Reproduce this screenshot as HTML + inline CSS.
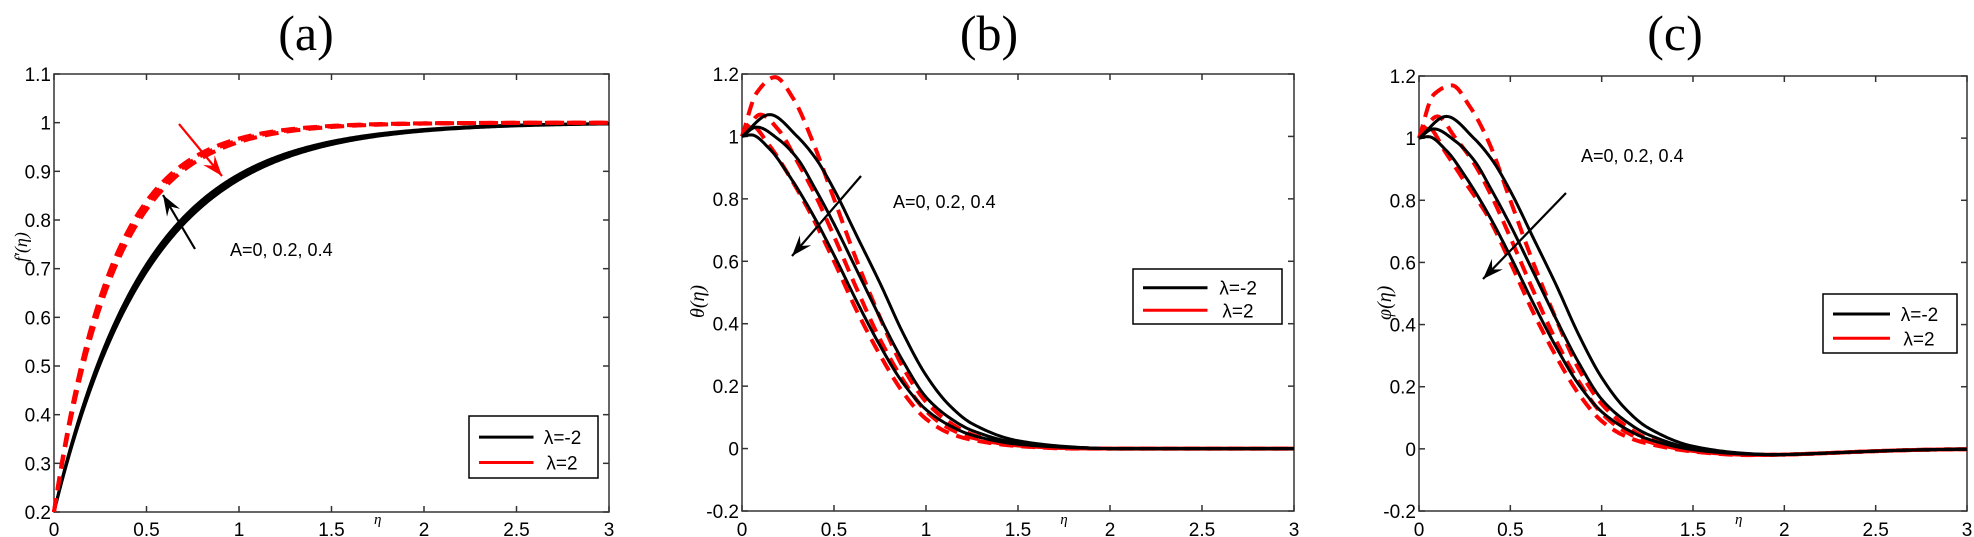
<!DOCTYPE html>
<html><head><meta charset="utf-8"><style>
html,body{margin:0;padding:0;background:#fff;}
svg{display:block;font-family:"Liberation Sans",sans-serif;}
</style></head><body>
<svg id="s" width="1974" height="537" xmlns="http://www.w3.org/2000/svg">
<text x="306" y="50" font-family="Liberation Serif,serif" font-size="50" text-anchor="middle">(a)</text>
<text x="989" y="50" font-family="Liberation Serif,serif" font-size="50" text-anchor="middle">(b)</text>
<text x="1675" y="50" font-family="Liberation Serif,serif" font-size="50" text-anchor="middle">(c)</text>
</svg>
<script>
const S=document.getElementById('s');const NS='http://www.w3.org/2000/svg';
function el(t,a,txt){const e=document.createElementNS(NS,t);for(const k in a)e.setAttribute(k,a[k]);if(txt!==undefined)e.textContent=txt;S.appendChild(e);return e;}
function panel(P){
 const X=v=>P.x0+v/3*(P.x1-P.x0), Y=v=>P.y1-(v-P.ymin)/(P.ymax-P.ymin)*(P.y1-P.y0);
 P.X=X;P.Y=Y;
 el('rect',{x:P.x0,y:P.y0,width:P.x1-P.x0,height:P.y1-P.y0,fill:'none',stroke:'#333','stroke-width':1.5});
 for(let i=0;i<=6;i++){const v=i*0.5,x=X(v);
  el('line',{x1:x,y1:P.y1,x2:x,y2:P.y1-6,stroke:'#333','stroke-width':1.5});
  el('line',{x1:x,y1:P.y0,x2:x,y2:P.y0+6,stroke:'#333','stroke-width':1.5});
  el('text',{x:x,y:536,'font-size':19,'text-anchor':'middle'},String(v));}
 for(const v of P.yt){const y=Y(v);
  el('line',{x1:P.x0,y1:y,x2:P.x0+6,y2:y,stroke:'#333','stroke-width':1.5});
  el('line',{x1:P.x1,y1:y,x2:P.x1-6,y2:y,stroke:'#333','stroke-width':1.5});
  el('text',{x:P.x0-3,y:y+7,'font-size':19,'text-anchor':'end'},P.fmt(v));}
 el('text',{x:X(1.75),y:524,'font-size':15,'font-style':'italic','font-family':'Liberation Serif,serif','text-anchor':'middle'},'η');
}
function pchip(pts){const n=pts.length,x=pts.map(p=>p[0]),y=pts.map(p=>p[1]);const h=[],d=[];
 for(let i=0;i<n-1;i++){h.push(x[i+1]-x[i]);d.push((y[i+1]-y[i])/h[i]);}
 const m=new Array(n);m[0]=d[0];m[n-1]=d[n-2];
 for(let i=1;i<n-1;i++){if(d[i-1]*d[i]<=0)m[i]=0;else{const w1=2*h[i]+h[i-1],w2=h[i]+2*h[i-1];m[i]=(w1+w2)/(w1/d[i-1]+w2/d[i]);}}
 return t=>{let i=0;while(i<n-2&&t>x[i+1])i++;const s=(t-x[i])/h[i],s2=s*s,s3=s2*s;
  return (2*s3-3*s2+1)*y[i]+(s3-2*s2+s)*h[i]*m[i]+(-2*s3+3*s2)*y[i+1]+(s3-s2)*h[i]*m[i+1];};}
function curveFn(P,f,red){let d='';for(let i=0;i<=300;i++){const e=i*0.01;d+=(i?'L':'M')+P.X(e).toFixed(2)+','+P.Y(f(e)).toFixed(2);}
 el('path',{d,fill:'none',stroke:red?'#f00':'#000','stroke-width':red?4:3,'stroke-dasharray':red?'14,8':'none','stroke-linejoin':'round'});}
function arrow(x1,y1,x2,y2,c){el('line',{x1,y1,x2,y2,stroke:c,'stroke-width':2.2});
 const a=Math.atan2(y2-y1,x2-x1),L=22,w=0.35;
 el('path',{d:`M${x2-L*Math.cos(a-w)},${y2-L*Math.sin(a-w)} L${x2},${y2} L${x2-L*Math.cos(a+w)},${y2-L*Math.sin(a+w)} L${x2-L*0.6*Math.cos(a)},${y2-L*0.6*Math.sin(a)} Z`,fill:c});}
function legend(x,y,w,h){el('rect',{x,y,width:w,height:h,fill:'#fff',stroke:'#000','stroke-width':1.5});
 el('line',{x1:x+10,y1:y+h*0.34,x2:x+w*0.5,y2:y+h*0.34,stroke:'#000','stroke-width':3});
 el('line',{x1:x+10,y1:y+h*0.75,x2:x+w*0.5,y2:y+h*0.75,stroke:'#f00','stroke-width':3});
 el('text',{x:x+w*0.58,y:y+h*0.34+7,'font-size':19},'λ=-2');
 el('text',{x:x+w*0.6,y:y+h*0.75+7,'font-size':19},'λ=2');}
const f1=v=>v.toFixed(1).replace(/\.0$/,'');
const A={x0:54,x1:609,y0:74,y1:512,ymin:0.2,ymax:1.1,yt:[0.2,0.3,0.4,0.5,0.6,0.7,0.8,0.9,1,1.1],fmt:f1};
panel(A);
for(const k of [1.92,1.97,2.02])curveFn(A,e=>1-0.8*Math.exp(-k*e),false);
for(const k of [3.0,3.1,3.2])curveFn(A,e=>1-0.8*Math.exp(-k*e),true);
arrow(195,249,163,195,'#000');arrow(179,124,222,176,'#f00');
el('text',{x:230,y:256,'font-size':18},'A=0, 0.2, 0.4');
legend(469,416,129,62);
el('text',{x:0,y:0,'font-size':18,transform:'translate(27,262) rotate(-90)','font-family':'Liberation Serif,serif','font-style':'italic'},'f′(η)');
const bk=[
[[0,1],[0.15,1.07],[0.3,1.0],[0.4,0.93],[0.5,0.83],[0.625,0.68],[0.75,0.53],[0.875,0.37],[1.0,0.235],[1.125,0.14],[1.25,0.08],[1.5,0.025],[1.8,0.005],[2,0],[3,0]],
[[0,1],[0.08,1.03],[0.2,0.99],[0.3,0.93],[0.4,0.83],[0.5,0.72],[0.625,0.57],[0.75,0.42],[0.875,0.28],[1.0,0.165],[1.125,0.1],[1.25,0.058],[1.5,0.018],[1.8,0.004],[2,0],[3,0]],
[[0,1],[0.05,1.005],[0.15,0.96],[0.25,0.88],[0.375,0.76],[0.5,0.62],[0.625,0.47],[0.75,0.33],[0.875,0.21],[1.0,0.125],[1.125,0.075],[1.25,0.043],[1.5,0.014],[1.8,0.003],[2,0],[3,0]]];
const rd=[
[[0,1],[0.08,1.14],[0.18,1.19],[0.28,1.12],[0.38,0.99],[0.5,0.8],[0.625,0.6],[0.75,0.42],[0.875,0.26],[1.0,0.15],[1.125,0.085],[1.25,0.045],[1.5,0.012],[1.8,0.002],[2,0],[3,0]],
[[0,1],[0.1,1.07],[0.2,1.02],[0.3,0.92],[0.4,0.81],[0.5,0.68],[0.625,0.51],[0.75,0.35],[0.875,0.22],[1.0,0.12],[1.125,0.065],[1.25,0.035],[1.5,0.01],[1.8,0.001],[2,0],[3,0]],
[[0,1],[0.04,1.04],[0.15,0.97],[0.25,0.88],[0.375,0.75],[0.5,0.6],[0.625,0.44],[0.75,0.3],[0.875,0.18],[1.0,0.095],[1.125,0.05],[1.25,0.028],[1.5,0.008],[1.8,0],[2,0],[3,0]]];
const f2=v=>(Math.abs(v)<1e-9?'0':String(Math.round(v*10)/10));
const B={x0:742,x1:1294,y0:74,y1:511,ymin:-0.2,ymax:1.2,yt:[-0.2,0,0.2,0.4,0.6,0.8,1,1.2],fmt:f2};
panel(B);
rd.forEach(p=>curveFn(B,pchip(p),true));bk.forEach(p=>curveFn(B,pchip(p),false));
arrow(861,176,792,256,'#000');
el('text',{x:893,y:208,'font-size':18},'A=0, 0.2, 0.4');
legend(1133,269,149,55);
el('text',{x:0,y:0,'font-size':20,transform:'translate(704,318) rotate(-90)','font-family':'Liberation Serif,serif','font-style':'italic'},'θ(η)');
const C={x0:1419,x1:1967,y0:76,y1:511,ymin:-0.2,ymax:1.2,yt:[-0.2,0,0.2,0.4,0.6,0.8,1,1.2],fmt:f2};
panel(C);
const tailF=p=>{const g=pchip(p);return e=>g(e)-0.02*Math.exp(-Math.pow((e-1.8)/0.7,2))*(e>0.9?1:Math.exp(-Math.pow((0.9-e)/0.25,2)));};
const rdc=rd.map(p=>p.map(q=>[q[0],q[0]>0.1&&q[0]<0.3?q[1]-0.02:q[1]]));
rdc.forEach(p=>curveFn(C,tailF(p),true));bk.forEach(p=>curveFn(C,tailF(p),false));
arrow(1566,193,1483,279,'#000');
el('text',{x:1581,y:162,'font-size':18},'A=0, 0.2, 0.4');
legend(1823,294,134,59);
el('text',{x:0,y:0,'font-size':20,transform:'translate(1391,320) rotate(-90)','font-family':'Liberation Serif,serif','font-style':'italic'},'φ(η)');
</script>
</body></html>
